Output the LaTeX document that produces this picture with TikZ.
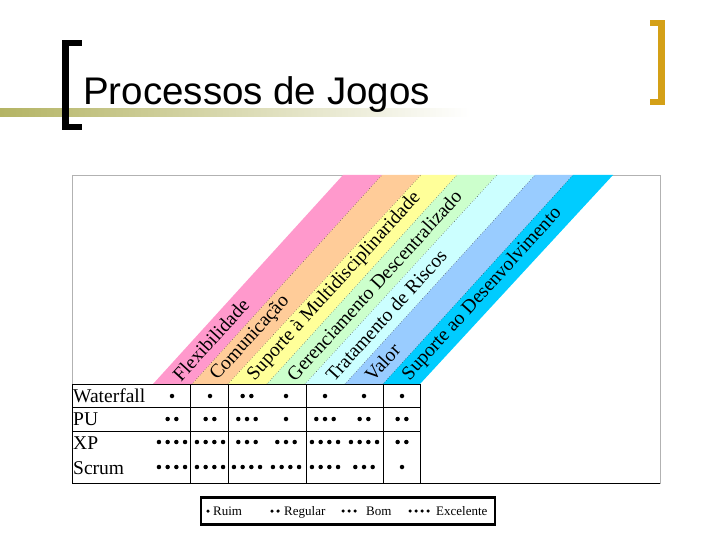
\documentclass[tikz,border=0pt]{standalone}
\usepackage{fontspec}
\setmainfont{Liberation Serif}
\newfontfamily\titlefont{Liberation Sans}
\definecolor{gold}{RGB}{212,160,23}
\definecolor{khaki}{RGB}{180,180,100}
\begin{document}
\begin{tikzpicture}[x=1pt,y=-1pt,
  band/.style={draw=black,dotted,line width=0.4pt},
  blab/.style={anchor=west,rotate=47.7,inner sep=0pt,font=\fontsize{19.5}{19.5}\selectfont},
  rlab/.style={anchor=west,inner sep=1pt,font=\fontsize{19.5}{19.5}\selectfont},
  dot/.style={fill=black,circle,inner sep=0pt,minimum size=4.5pt},
  ldot/.style={fill=black,circle,inner sep=0pt,minimum size=3.5pt},
  grid/.style={draw=black,line width=0.6pt}]
\useasboundingbox (0,0) rectangle (720,540);
% title bar
\shade[left color=khaki,right color=white] (0,109) rectangle (470,117);
\fill[black] (62,40) rectangle (69,130);
\fill[black] (62,40) rectangle (82,46);
\fill[black] (62,124) rectangle (82,130);
\fill[gold] (658,20) rectangle (665,105);
\fill[gold] (650,20) rectangle (665,26);
\fill[gold] (650,99) rectangle (665,105);
\node[anchor=base west,inner sep=0pt,font=\titlefont\fontsize{38.5}{38.5}\selectfont] (title) at (83,105) {Processos de Jogos};
% outer frame
\draw[gray!60,line width=0.5pt] (72,175) rectangle (660,483);
% bands
\def\bot{{153,192,228,267,305,345,383,420}}
\def\tp{{343,382,421,457,497,535,573,613}}
\foreach \c [count=\i from 0] in {{255,153,204},{255,204,153},{255,255,153},{204,255,204},{204,255,255},{153,204,255},{0,204,255}}{
  \pgfmathsetmacro\ba{\bot[\i]}\pgfmathsetmacro\bb{\bot[\i+1]}
  \pgfmathsetmacro\ta{\tp[\i]}\pgfmathsetmacro\tb{\tp[\i+1]}
  \definecolor{bc}{RGB}{\c}
  \fill[bc] (\ba,384) -- (\ta,175) -- (\tb,175) -- (\bb,384) -- cycle;
}
\foreach \i in {1,...,6}{
  \pgfmathsetmacro\ba{\bot[\i]}\pgfmathsetmacro\ta{\tp[\i]}
  \draw[band] (\ba,384) -- (\ta,175);
}
\foreach \t/\x [count=\k] in {Flexibilidade/172,Comunicação/210,Suporte à Multidisciplinaridade/247,Gerenciamento Descentralizado/286,Tratamento de Riscos/325,Valor/364,Suporte ao Desenvolvimento/402}
  \node[blab] (b\k) at (\x+4,378) {\t};
% table grid
\draw[grid] (72,384) -- (420,384);
\draw[grid] (72,407) -- (420,407);
\draw[grid] (72,431) -- (420,431);
\draw[grid] (72,483) -- (660,483);
\foreach \x in {72,190,228,306,383,420} \draw[grid] (\x,384) -- (\x,483);
% row labels
\node[rlab] (r1) at (72,396) {Waterfall};
\node[rlab] (r2) at (72,419) {PU};
\node[rlab] (r3) at (72,443) {XP};
\node[rlab] (r4) at (72,468) {Scrum};
% dots
\foreach \row/\y in {{1,1,2,1,1,1,1}/396,{2,2,3,1,3,2,2}/419,{4,4,3,3,4,4,2}/442,{4,4,4,4,4,3,1}/467}{
  \foreach \n [count=\j from 0] in \row {
    \pgfmathsetmacro\cx{\j==0?172:(\j==1?210:(\j==2?247:(\j==3?286:(\j==4?325:(\j==5?364:402)))))}
    \foreach \m in {1,...,\n}
      \node[dot] at ({\cx+(\m-(\n+1)/2)*8.7},\y) {};
  }
}
% legend
\node[draw=black,line width=2.5pt,minimum width=294pt,minimum height=27pt,inner sep=0pt] (leg) at (348,511) {};
\begin{scope}[font=\fontsize{13}{13}\selectfont]
\node[ldot] at (208,511) {};
\node[anchor=base west,inner sep=0pt] (l1) at (213,515) {Ruim};
\foreach \k in {0,1} \node[ldot] at (272+\k*6,511) {};
\node[anchor=base west,inner sep=0pt] (l2) at (284,515) {Regular};
\foreach \k in {0,1,2} \node[ldot] at (343+\k*6,511) {};
\node[anchor=base west,inner sep=0pt] (l3) at (366,515) {Bom};
\foreach \k in {0,1,2,3} \node[ldot] at (410+\k*6,511) {};
\node[anchor=base west,inner sep=0pt] (l4) at (436,515) {Excelente};
\end{scope}
\end{tikzpicture}
\end{document}
